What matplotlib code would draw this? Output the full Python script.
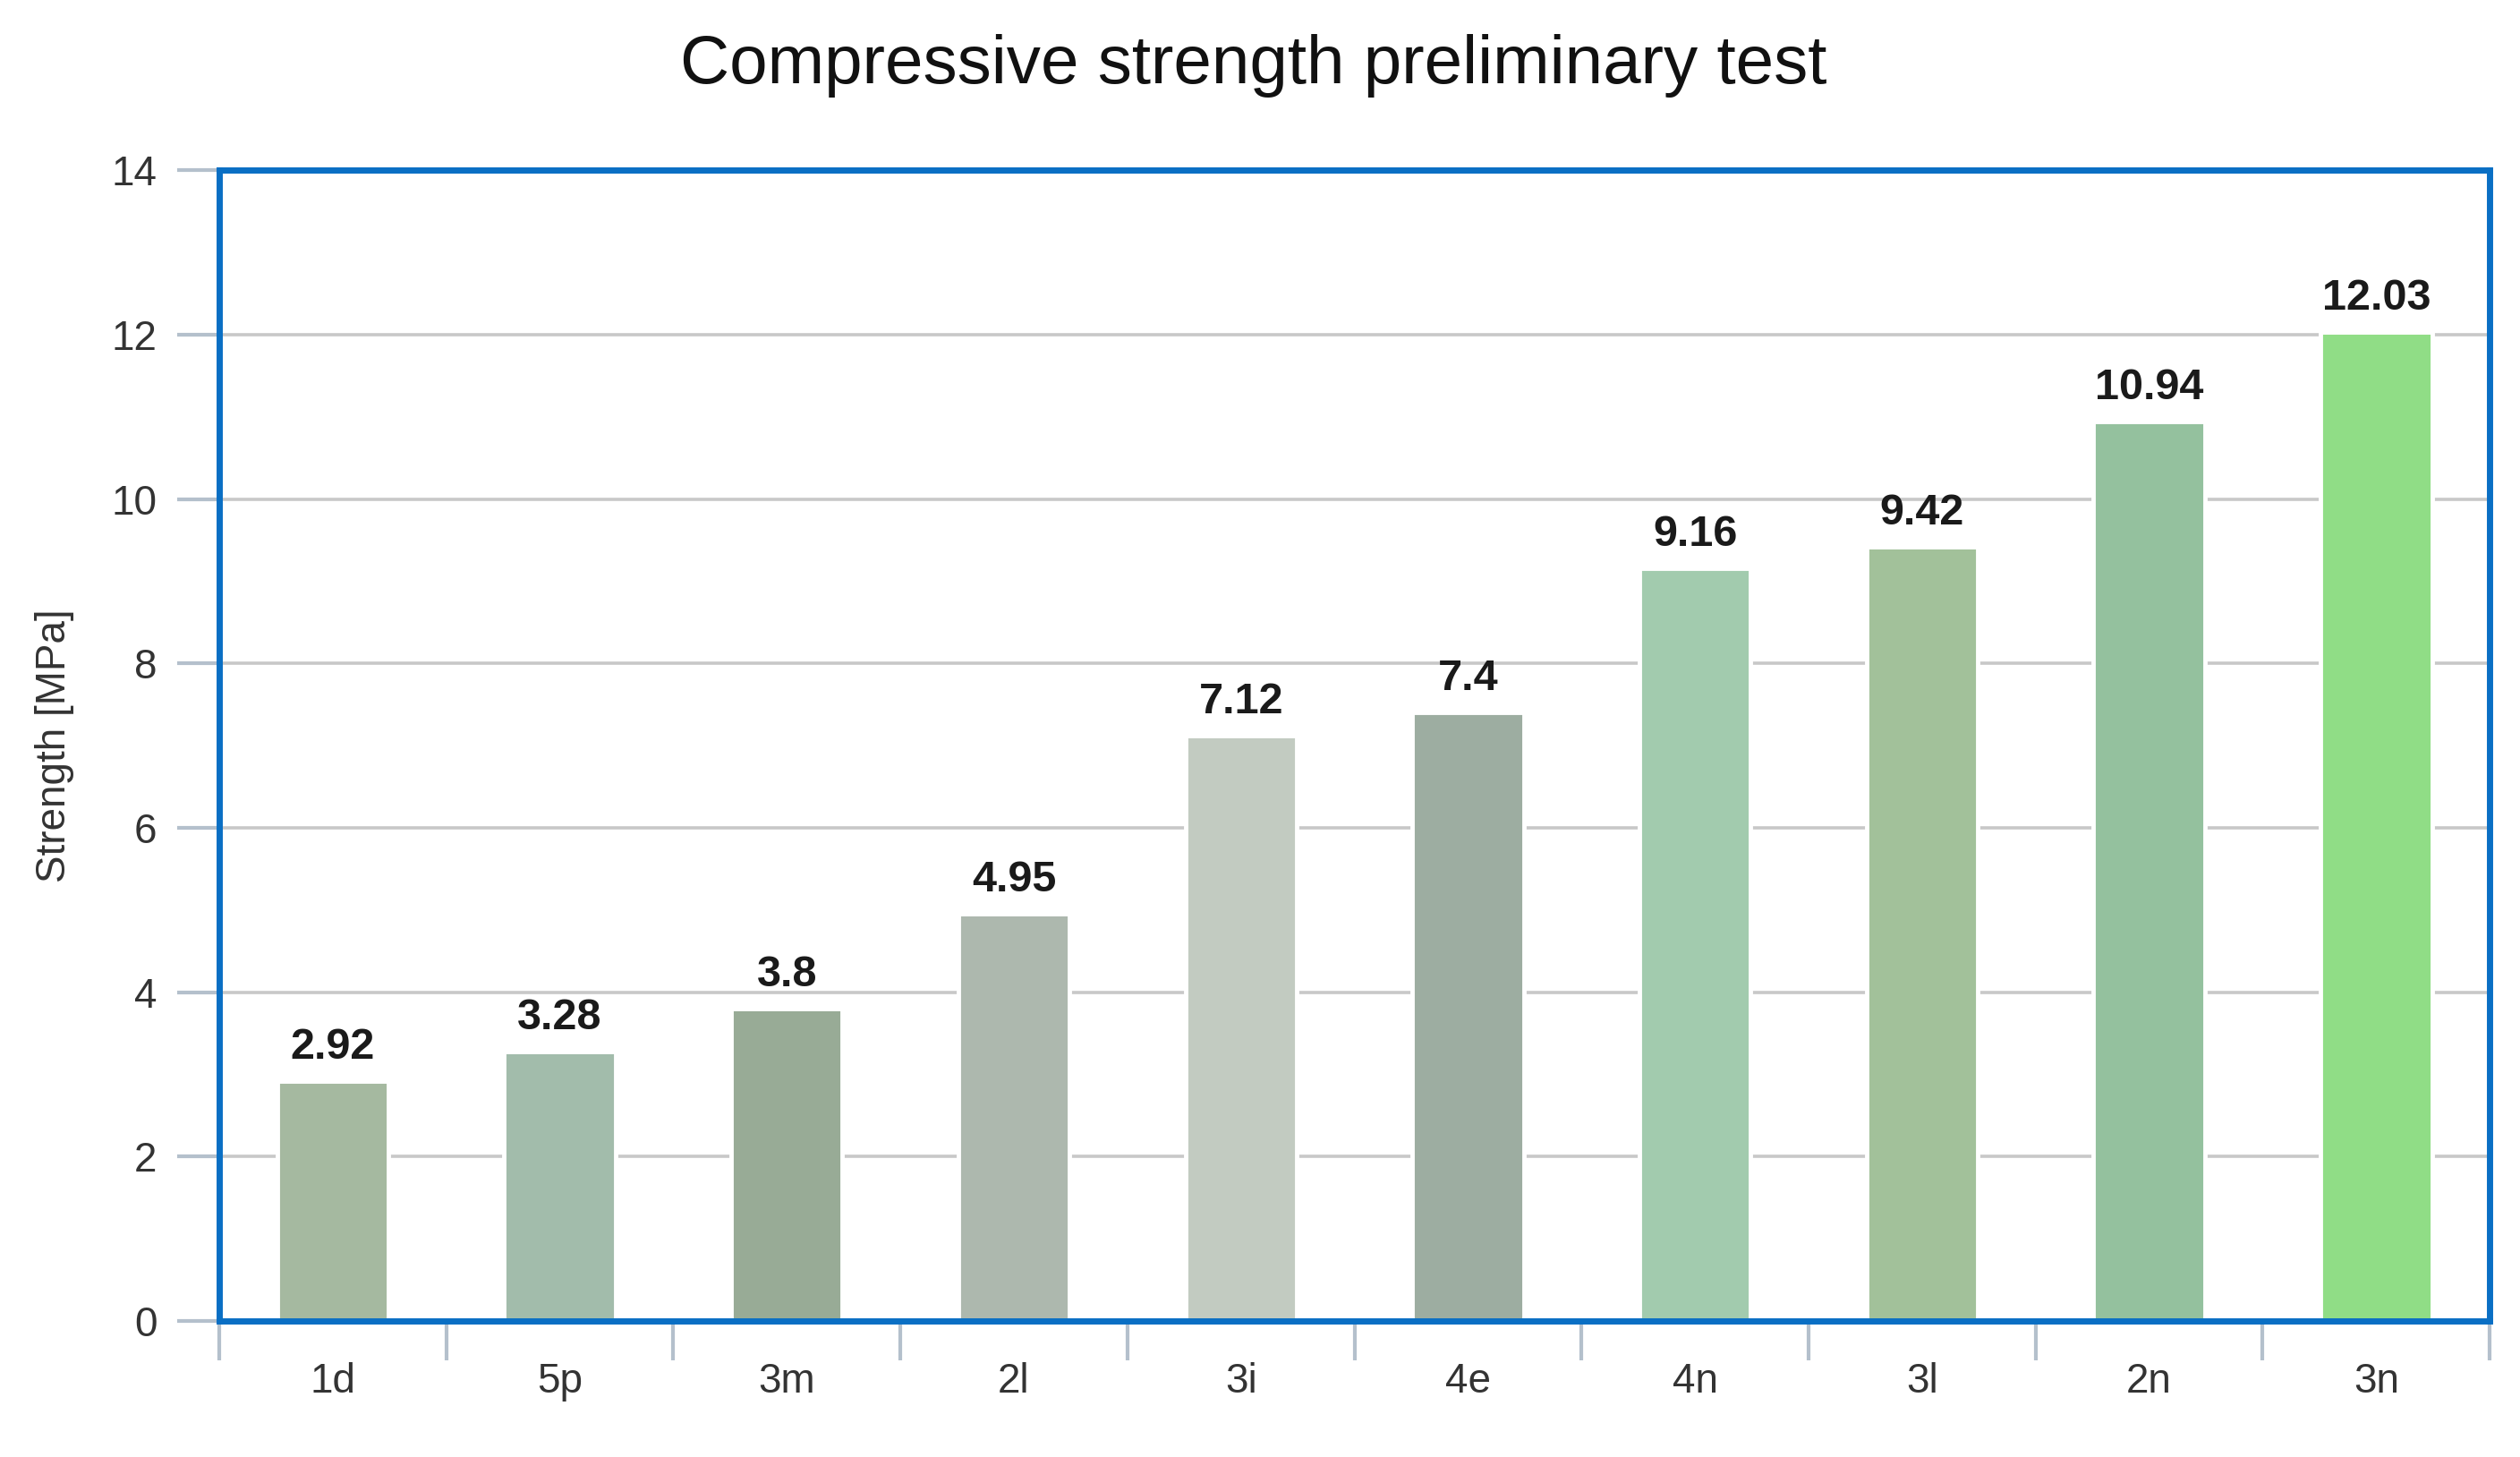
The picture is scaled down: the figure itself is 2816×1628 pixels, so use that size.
import numpy as np
from matplotlib import pyplot as plt

plt.rcParams['font.family'] = ['Liberation Sans', 'DejaVu Sans']

samples = ['1d', '5p', '3m', '2l', '3i', '4e', '4n', '3l', '2n', '3n']
strength = [2.92, 3.28, 3.8, 4.95, 7.12, 7.4, 9.16, 9.42, 10.94, 12.03]
labels = ['2.92', '3.28', '3.8', '4.95', '7.12', '7.4', '9.16', '9.42', '10.94', '12.03']
colors = ['#a5b9a0', '#a2bcab', '#98ab96', '#adb8ae', '#c2cbc1',
          '#9dada1', '#a2cbae', '#a2c19a', '#94c19e', '#90dd86']
yticks = [0, 2, 4, 6, 8, 10, 12, 14]

fig = plt.figure(figsize=(28.16, 16.28), dpi=100)
ax = fig.add_axes([0.087, 0.0934, 0.901, 0.7896])

x = np.arange(len(samples))
ax.set_axisbelow(True)
ax.yaxis.grid(True, color='#c8c8c8', linewidth=2.6)
bars = ax.bar(x, strength, width=0.49, color=colors, edgecolor='white', linewidth=3.5)

for xi, v, lab in zip(x, strength, labels):
    ax.annotate(lab, (xi, v), xytext=(0, 11), textcoords='offset points',
                ha='center', va='bottom', fontsize=35, fontweight='bold', color='#1a1a1a')

ax.set_xlim(-0.5, len(samples) - 0.5)
ax.set_ylim(0, 14)
ax.set_yticks(yticks)
ax.tick_params(axis='y', length=34, width=3, color='#b4c0cc', pad=16,
               labelsize=33, labelcolor='#333333')

# separators between categories as major ticks, names as minor ticks
ax.set_xticks(np.arange(len(samples) + 1) - 0.5)
ax.set_xticklabels([])
ax.set_xticks(x, minor=True)
ax.set_xticklabels(samples, minor=True)
ax.tick_params(axis='x', which='major', length=32, width=3, color='#b4c0cc')
ax.tick_params(axis='x', which='minor', length=0, pad=33, labelsize=33, labelcolor='#333333')

for s in ax.spines.values():
    s.set_color('#0a6fc4')
    s.set_linewidth(5)

ax.set_ylabel('Strength [MPa]', fontsize=33, color='#333333')
ax.yaxis.set_label_coords(-0.064, 0.5)

fig.text(0.4975, 0.955, 'Compressive strength preliminary test', ha='center', va='center',
         fontsize=55, color='#111111')

fig.savefig('out.png', dpi=100)
